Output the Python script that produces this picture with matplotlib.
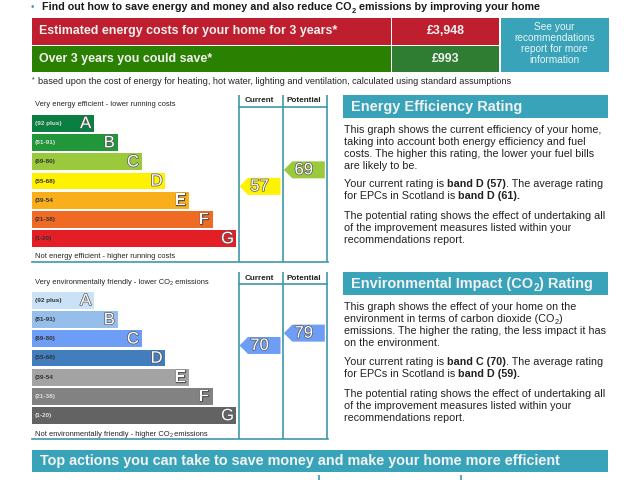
import matplotlib
matplotlib.use('Agg')
import matplotlib.pyplot as plt
import matplotlib.patheffects
from matplotlib.patches import Polygon, Rectangle

plt.rcParams['font.family'] = ['Liberation Sans', 'DejaVu Sans']

# data
band_letters = ['A', 'B', 'C', 'D', 'E', 'F', 'G']
band_ranges = ['(92 plus)', '(81-91)', '(69-80)', '(55-68)', '(39-54', '(21-38)', '(1-20)']
band_rank = [1, 2, 3, 4, 5, 6, 7]
energy_colors = ['#0B7F41', '#22973A', '#9BC93C', '#FFF200', '#F9AE1C', '#EF6A24', '#E41E26']
co2_colors = ['#CBE1F5', '#96BEEA', '#6D9DF5', '#427DBE', '#A3A3A3', '#828282', '#636363']
energy_current = 57
energy_potential = 69
co2_current = 70
co2_potential = 79
cost_total = '£3,948'
cost_saving = '£993'

TEAL = '#39A3B9'
LINE = '#3F97A9'
RED = '#BE1E2D'
GREEN = '#2A8000'
GREEN2 = '#2E7D32'
DARK = '#222222'

fig = plt.figure(figsize=(6.4, 4.8), dpi=100)
ax = fig.add_axes([0, 0, 1, 1])
ax.set_xlim(0, 640)
ax.set_ylim(480, 0)
ax.axis('off')
renderer = fig.canvas.get_renderer()


def box(x0, y0, x1, y1, color):
    ax.add_patch(Rectangle((x0, y0), x1 - x0, y1 - y0, facecolor=color, edgecolor='none'))


def runs(x, y, parts, size, color=DARK):
    # parts: (text, bold) or (text, bold, True) for a subscript
    for part in parts:
        sub = len(part) > 2
        t = ax.text(x, y + (size * 0.3 if sub else 0), part[0], fontsize=size * (0.7 if sub else 1),
                    fontweight='bold' if part[1] else 'normal', color=color, va='baseline', ha='left')
        x += t.get_window_extent(renderer).width


def outlined(x, y, s, size, fill='white', edge='#555555'):
    ax.text(x, y, s, fontsize=size, color=fill, ha='center', va='center',
            path_effects=[matplotlib.patheffects.withStroke(linewidth=1.0, foreground=edge)])


def chart(top, colors, current, potential, top_text, bottom_text):
    # top is the y of the column lines' start
    bar_top = top + 20
    step = 19.2
    for rank, letter, rng, color in zip(band_rank, band_letters, band_ranges, colors):
        y0 = bar_top + (rank - 1) * step
        width = 38.3 + 23.65 * rank
        ax.barh(y0 + 8.4, width, height=16.8, left=32.3, color=color, edgecolor='none')
        dark_label = color not in ('#0B7F41', '#22973A', '#828282', '#636363')
        ax.text(35, y0 + 8.4, rng, fontsize=4.6, fontweight='bold', va='center',
                color='#333333' if dark_label else '#DDDDDD')
        outlined(32.3 + width - 8.6, y0 + 8.6, letter, 12)

    runs(35, top + 11.5, top_text, 5.42)
    runs(35, top + 163.5, bottom_text, 5.42)

    # column lines
    for x in (238.7, 283, 327.3):
        ax.plot([x, x], [top, top + 167], color=LINE, lw=1.2, solid_capstyle='butt')
    ax.plot([238.7, 327.3], [top + 11.8, top + 11.8], color=LINE, lw=1.2)
    ax.plot([32.3, 327.8], [top + 167, top + 167], color=LINE, lw=1.2)
    ax.text(259.5, top + 6, 'Current', fontsize=5.9, fontweight='bold', ha='center', va='center', color=DARK)
    ax.text(303.5, top + 6, 'Potential', fontsize=5.9, fontweight='bold', ha='center', va='center', color=DARK)

    # arrows sit on a rating scale running up from the bottom line
    for value, tip in ((current, 239.5), (potential, 283.8)):
        yc = top + 169.6 - 1.373 * value
        idx = 0 if value >= 92 else 1 if value >= 81 else 2 if value >= 69 else 3 if value >= 55 else 4
        ax.add_patch(Polygon([(tip, yc), (tip + 8.5, yc - 8.5), (tip + 41, yc - 8.5),
                              (tip + 41, yc + 8.5), (tip + 8.5, yc + 8.5)],
                             closed=True, facecolor=colors[idx], edgecolor='none'))
        outlined(tip + 20, yc, str(value), 12)


# top strip
ax.text(32.5, 6.5, '•', fontsize=7, color=TEAL, ha='center', va='center')
runs(42, 10.2, [('Find out how to save energy and money and also reduce CO', True), ('2', True, True),
                (' emissions by improving your home', True)], 7.75, '#1A1A1A')

box(32.3, 18.3, 390.7, 44.5, RED)
box(32.3, 46, 390.7, 71.7, GREEN)
box(392, 18.3, 499.3, 44.5, RED)
box(392, 46, 499.3, 71.7, GREEN2)
box(500.7, 18.3, 608.7, 71.7, TEAL)
ax.text(39, 31.2, 'Estimated energy costs for your home for 3 years*', fontsize=8.9, fontweight='bold',
        color='#F2F2F2', va='center')
ax.text(39, 58.8, 'Over 3 years you could save*', fontsize=8.9, fontweight='bold', color='#F2F2F2', va='center')
ax.text(445.5, 31.2, cost_total, fontsize=8.9, fontweight='bold', color='#F2F2F2', ha='center', va='center')
ax.text(445.5, 58.8, cost_saving, fontsize=8.9, fontweight='bold', color='#F2F2F2', ha='center', va='center')
for i, line in enumerate(['See your', 'recommendations', 'report for more', 'information']):
    ax.text(554.5, 26.5 + i * 11.2, line, fontsize=7.3, color='#E8F4F6', ha='center', va='center')
ax.text(33, 79.5, '*', fontsize=5, color=DARK, ha='center', va='center')
ax.text(38.5, 84, 'based upon the cost of energy for heating, hot water, lighting and ventilation, '
        'calculated using standard assumptions', fontsize=6.55, color=DARK, va='baseline')

chart(95, energy_colors, energy_current, energy_potential,
      [('Very energy efficient - lower running costs', False)],
      [('Not energy efficient - higher running costs', False)])
chart(272, co2_colors, co2_current, co2_potential,
      [('Very environmentally friendly - lower CO', False), ('2', False, True), (' emissions', False)],
      [('Not environmentally friendly - higher CO', False), ('2', False, True), (' emissions', False)])

# right hand panels
box(343.3, 95, 607.7, 118, TEAL)
ax.text(351, 106.5, 'Energy Efficiency Rating', fontsize=10.45, fontweight='bold', color='#F2F2F2', va='center')
box(343.3, 272.3, 607.7, 295.3, TEAL)
runs(351, 288, [('Environmental Impact (CO', True), ('2', True, True), (') Rating', True)], 10.45, '#F2F2F2')

energy_lines = [
    (133, [('This graph shows the current efficiency of your home,', False)]),
    (145, [('taking into account both energy efficiency and fuel', False)]),
    (157, [('costs. The higher this rating, the lower your fuel bills', False)]),
    (169, [('are likely to be.', False)]),
    (187, [('Your current rating is ', False), ('band D (57)', True), ('. The average rating', False)]),
    (199, [('for EPCs in Scotland is ', False), ('band D (61).', True)]),
    (219, [('The potential rating shows the effect of undertaking all', False)]),
    (231, [('of the improvement measures listed within your', False)]),
    (243, [('recommendations report.', False)]),
]
co2_lines = [
    (310, [('This graph shows the effect of your home on the', False)]),
    (322, [('environment in terms of carbon dioxide (CO', False), ('2', False, True), (')', False)]),
    (334, [('emissions. The higher the rating, the less impact it has', False)]),
    (346, [('on the environment.', False)]),
    (365, [('Your current rating is ', False), ('band C (70)', True), ('. The average rating', False)]),
    (377, [('for EPCs in Scotland is ', False), ('band D (59).', True)]),
    (397, [('The potential rating shows the effect of undertaking all', False)]),
    (409, [('of the improvement measures listed within your', False)]),
    (421, [('recommendations report.', False)]),
]
for y, parts in energy_lines + co2_lines:
    runs(344, y, parts, 7.75)

# bottom banner
box(32.3, 450, 607.7, 471.8, TEAL)
ax.text(40, 461, 'Top actions you can take to save money and make your home more efficient', fontsize=10.4,
        fontweight='bold', color='#F2F2F2', va='center')
for x in (319, 461):
    ax.plot([x, x], [475, 480], color=LINE, lw=1.2, solid_capstyle='butt')

fig.savefig('out.png', dpi=100)
